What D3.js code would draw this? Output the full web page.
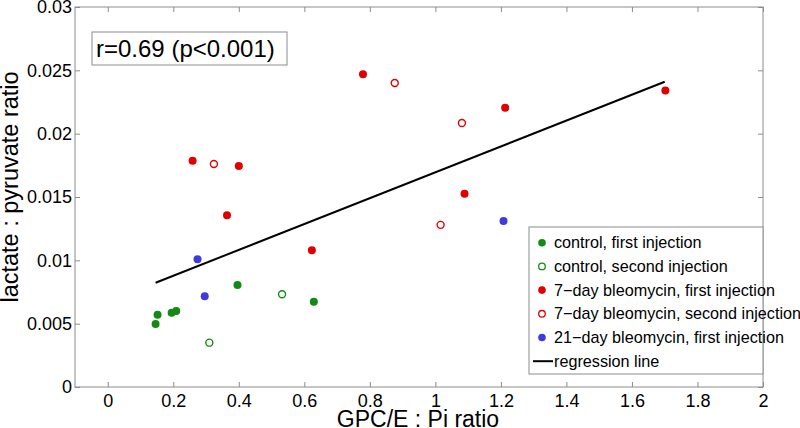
<!DOCTYPE html>
<html>
<head>
<meta charset="utf-8">
<script src="https://cdn.jsdelivr.net/npm/d3@7"></script>
<style>
  body { margin: 0; background: #fff; }
  svg { display: block; font-family: "Liberation Sans", Arial, sans-serif; }
</style>
</head>
<body>
<svg id="chart" width="800" height="428"></svg>
<script>
// ---- data ----
const controlFirstX  = [0.146, 0.152, 0.195, 0.209, 0.396, 0.629];
const controlFirstY  = [0.00497, 0.00571, 0.00587, 0.0060, 0.00805, 0.00674];
const controlSecondX = [0.310, 0.532];
const controlSecondY = [0.0035, 0.00732];
const bleo7FirstX    = [0.259, 0.400, 0.364, 0.779, 1.213, 1.702, 1.089, 0.623];
const bleo7FirstY    = [0.01787, 0.01745, 0.01355, 0.0247, 0.02205, 0.0234, 0.01526, 0.01079];
const bleo7SecondX   = [0.324, 0.876, 1.081, 1.016];
const bleo7SecondY   = [0.0176, 0.0240, 0.02084, 0.0128];
const bleo21FirstX   = [0.274, 0.296, 1.208];
const bleo21FirstY   = [0.01008, 0.00716, 0.0131];
const regressionX    = [0.146, 1.700];
const regressionY    = [0.00823, 0.0241];
const xTicks = [0, 0.2, 0.4, 0.6, 0.8, 1, 1.2, 1.4, 1.6, 1.8, 2];
const yTicks = [0, 0.005, 0.01, 0.015, 0.02, 0.025, 0.03];
const xTickLabels = ["0", "0.2", "0.4", "0.6", "0.8", "1", "1.2", "1.4", "1.6", "1.8", "2"];
const yTickLabels = ["0", "0.005", "0.01", "0.015", "0.02", "0.025", "0.03"];
const legendLabels = ["control, first injection", "control, second injection",
  "7\u2212day bleomycin, first injection", "7\u2212day bleomycin, second injection",
  "21\u2212day bleomycin, first injection", "regression line"];
const annotation = "r=0.69 (p<0.001)";
const xLabel = "GPC/E : Pi ratio";
const yLabel = "lactate : pyruvate ratio";

// ---- layout ----
const GREEN = "#138a13", RED = "#e00000", BLUE = "#3c3cdc", AX = "#8c8c8c";
const L = 75, R = 763, T = 7, B = 387;
const svg = d3.select("#chart");
const x = d3.scaleLinear().domain([-0.1, 2]).range([L, R]);
const y = d3.scaleLinear().domain([0, 0.03]).range([B, T]);

// frame
svg.append("rect").attr("x", L).attr("y", T).attr("width", R - L).attr("height", B - T)
  .attr("fill", "none").attr("stroke", AX).attr("stroke-width", 1);

const tickLen = 5;
const xb = svg.append("g").attr("transform", `translate(0,${B})`)
  .call(d3.axisBottom(x).tickValues(xTicks).tickSizeInner(-tickLen).tickSizeOuter(0)
    .tickPadding(9).tickFormat((d, i) => xTickLabels[i]));
const xt = svg.append("g").attr("transform", `translate(0,${T})`)
  .call(d3.axisTop(x).tickValues(xTicks).tickSizeInner(-tickLen).tickSizeOuter(0).tickFormat(""));
const yl = svg.append("g").attr("transform", `translate(${L},0)`)
  .call(d3.axisLeft(y).tickValues(yTicks).tickSizeInner(-tickLen).tickSizeOuter(0)
    .tickPadding(3).tickFormat((d, i) => yTickLabels[i]));
const yr = svg.append("g").attr("transform", `translate(${R},0)`)
  .call(d3.axisRight(y).tickValues(yTicks).tickSizeInner(-tickLen).tickSizeOuter(0).tickFormat(""));
[xb, xt, yl, yr].forEach(g => {
  g.select(".domain").remove();
  g.selectAll(".tick line").attr("stroke", AX);
  g.selectAll(".tick text").attr("fill", "#000").style("font-size", "18px")
    .style("font-family", "'Liberation Sans', Arial, sans-serif");
});
xb.selectAll(".tick text").attr("dy", "0.71em").attr("y", 7);

// regression line
const line = d3.line().x(d => x(d[0])).y(d => y(d[1]));
svg.append("path").datum(regressionX.map((v, i) => [v, regressionY[i]]))
  .attr("d", line).attr("fill", "none").attr("stroke", "#000").attr("stroke-width", 2);

// points
function drawSeries(xs, ys, color, filled) {
  svg.append("g").selectAll("circle").data(xs.map((v, i) => [v, ys[i]])).join("circle")
    .attr("cx", d => x(d[0])).attr("cy", d => y(d[1]))
    .attr("r", filled ? 4 : 3.5)
    .attr("fill", filled ? color : "none")
    .attr("stroke", color).attr("stroke-width", filled ? 0 : 1.4);
}
drawSeries(controlFirstX, controlFirstY, GREEN, true);
drawSeries(controlSecondX, controlSecondY, GREEN, false);
drawSeries(bleo7FirstX, bleo7FirstY, RED, true);
drawSeries(bleo7SecondX, bleo7SecondY, RED, false);
drawSeries(bleo21FirstX, bleo21FirstY, BLUE, true);

// annotation box
svg.append("rect").attr("x", 92).attr("y", 32).attr("width", 195).attr("height", 33)
  .attr("fill", "#fff").attr("stroke", AX).attr("stroke-width", 1);
svg.append("text").attr("x", 96).attr("y", 57).style("font-size", "24px").text(annotation);

// legend
const lg = svg.append("g");
lg.append("rect").attr("x", 529).attr("y", 227).attr("width", R - 529).attr("height", 147)
  .attr("fill", "#fff").attr("stroke", AX).attr("stroke-width", 1);
const legendStyles = [
  {c: GREEN, f: true}, {c: GREEN, f: false}, {c: RED, f: true},
  {c: RED, f: false}, {c: BLUE, f: true}, {c: "#000", line: true}
];
legendLabels.forEach((lab, i) => {
  const cy = 242.7 + i * 23.7;
  const s = legendStyles[i];
  if (s.line) {
    lg.append("line").attr("x1", 533).attr("x2", 553).attr("y1", cy).attr("y2", cy)
      .attr("stroke", "#000").attr("stroke-width", 2);
  } else {
    lg.append("circle").attr("cx", 542).attr("cy", cy).attr("r", s.f ? 3.8 : 3.3)
      .attr("fill", s.f ? s.c : "none").attr("stroke", s.c).attr("stroke-width", s.f ? 0 : 1.3);
  }
  lg.append("text").attr("x", 554).attr("y", cy).attr("dy", "0.35em")
    .style("font-size", "16.2px").text(lab);
});

// axis labels
svg.append("text").attr("x", 418).attr("y", 427).attr("text-anchor", "middle")
  .style("font-size", "23px").text(xLabel);
svg.append("text").attr("transform", `translate(18,187) rotate(-90)`)
  .attr("text-anchor", "middle").style("font-size", "23.5px").text(yLabel);
</script>
</body>
</html>
